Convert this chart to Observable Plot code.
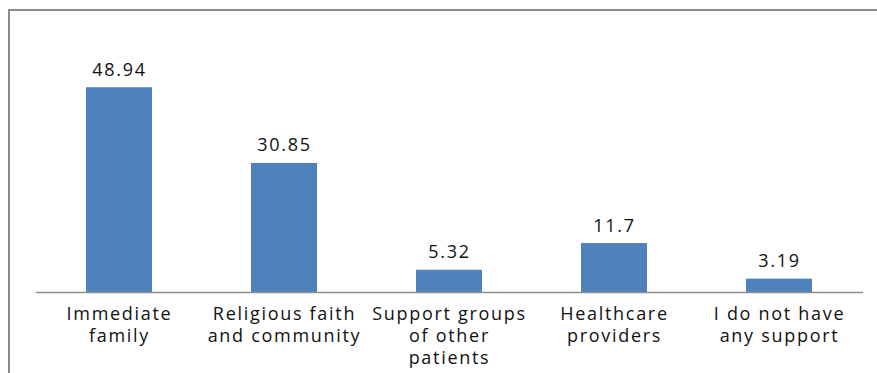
<!DOCTYPE html>
<html>
<head>
<meta charset="utf-8">
<script src="https://cdn.jsdelivr.net/npm/d3@7"></script>
<script src="https://cdn.jsdelivr.net/npm/@observablehq/plot@0.6"></script>
<style>
  html, body { margin: 0; padding: 0; background: #fff; overflow: hidden; }
  #frame { position: absolute; left: 8px; top: 9px; width: 900px; height: 420px; border: 2px solid #8a8a8a; box-sizing: border-box; }
  #chart { position: absolute; left: 0; top: 0; }
  #chart svg text { letter-spacing: 1.7px; }
</style>
</head>
<body>
<div id="frame"></div>
<div id="chart"></div>
<script>
const categories = ["Immediate family", "Religious faith and community", "Support groups of other patients", "Healthcare providers", "I do not have any support"];
const tickLabels = ["Immediate\nfamily", "Religious faith\nand community", "Support groups\nof other\npatients", "Healthcare\nproviders", "I do not have\nany support"];
const values = [48.94, 30.85, 5.32, 11.7, 3.19];
const valueLabels = ["48.94", "30.85", "5.32", "11.7", "3.19"];

const data = categories.map((c, i) => ({category: c, value: values[i], label: valueLabels[i]}));
const font = "'Open Sans', 'DejaVu Sans', sans-serif";

const chart = Plot.plot({
  width: 877,
  height: 373,
  marginLeft: 36,
  marginRight: 14,
  marginTop: 41,
  marginBottom: 81,
  style: {fontFamily: font, fontSize: "18px", color: "#111", background: "transparent"},
  x: {domain: categories, paddingInner: 0.6, paddingOuter: 0.3, label: null},
  y: {domain: [0, 60], axis: null},
  marks: [
    Plot.barY(data, {x: "category", y: "value", fill: "#4F81BD"}),
    Plot.ruleY([0], {stroke: "#8c8c8c", strokeWidth: 1.5}),
    Plot.text(data, {x: "category", y: "value", text: "label", dy: -12, lineAnchor: "bottom", fontSize: 18, fill: "#111"}),
    Plot.axisX({
      tickSize: 0,
      tickPadding: 12,
      fontSize: 18,
      lineHeight: 1.22,
      tickFormat: (d) => tickLabels[categories.indexOf(d)],
      label: null,
      fill: "#111"
    })
  ]
});
document.getElementById("chart").appendChild(chart);
</script>
</body>
</html>
